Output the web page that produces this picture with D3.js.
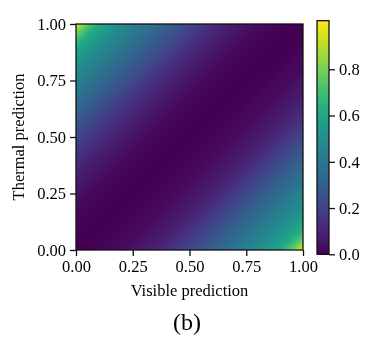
<!DOCTYPE html>
<html>
<head>
<meta charset="utf-8">
<script src="https://cdn.jsdelivr.net/npm/d3@7"></script>
<style>
  body { margin: 0; background: #fff; }
  #wrap { position: relative; width: 379px; height: 352px; }
  #wrap canvas, #wrap svg { position: absolute; left: 0; top: 0; }
  svg text { font-family: "Times New Roman", "Liberation Serif", Times, serif; fill: #000; }
</style>
</head>
<body>
<div id="wrap">
<canvas id="heat" width="379" height="352"></canvas>
<svg id="chart" width="379" height="352"></svg>
</div>
<script>
var gapSteps   = [0, 0.1, 0.2, 0.25, 0.3, 0.4, 0.5, 0.6, 0.7, 0.8, 0.9, 0.95, 1.0];
var gapValues  = [0, 0.008, 0.03, 0.05, 0.07, 0.13, 0.22, 0.31, 0.40, 0.49, 0.62, 0.76, 1.0];
var axisTicks  = [0, 0.25, 0.5, 0.75, 1.0];
var barTicks   = [0, 0.2, 0.4, 0.6, 0.8];
var colorMax   = 1.01;

var svg = d3.select("#chart");
var plot = {left: 76, right: 303, top: 24, bottom: 250};

var x = d3.scaleLinear().domain([0, 1]).range([plot.left, plot.right]),
    y = d3.scaleLinear().domain([0, 1]).range([plot.bottom, plot.top]);

var gapToValue = d3.scaleLinear().domain(gapSteps).range(gapValues).clamp(true);
var color = d3.scaleSequential(d3.interpolateViridis).domain([0, colorMax]);

// heat map, one cell per screen pixel
var ctx = d3.select("#heat").node().getContext("2d");
for (var px = plot.left; px < plot.right; px++) {
  for (var py = plot.top; py < plot.bottom; py++) {
    var vx = x.invert(px + 0.5), vy = y.invert(py + 0.5);
    ctx.fillStyle = color(gapToValue(Math.abs(vx - vy)));
    ctx.fillRect(px, py, 1, 1);
  }
}

// frame
svg.append("rect")
  .attr("x", plot.left).attr("y", plot.top)
  .attr("width", plot.right - plot.left).attr("height", plot.bottom - plot.top)
  .attr("fill", "none").attr("stroke", "#111").attr("stroke-width", 1.3);

var fmt = d3.format(".2f");

var xAxis = svg.append("g")
  .attr("transform", "translate(0," + plot.bottom + ")")
  .call(d3.axisBottom(x).tickValues(axisTicks).tickFormat(fmt).tickSize(6).tickPadding(4));
var yAxis = svg.append("g")
  .attr("transform", "translate(" + plot.left + ",0)")
  .call(d3.axisLeft(y).tickValues(axisTicks).tickFormat(fmt).tickSize(6).tickPadding(4));

[xAxis, yAxis].forEach(function(a) {
  a.attr("font-family", null).attr("font-size", null);
  a.select(".domain").remove();
  a.selectAll("line").attr("stroke", "#111").attr("stroke-width", 1.3);
  a.selectAll("text").attr("font-size", 16.5).attr("fill", "#000");
});

svg.append("text")
  .attr("x", (plot.left + plot.right) / 2)
  .attr("y", 296)
  .attr("text-anchor", "middle")
  .attr("font-size", 16.5)
  .text("Visible prediction");

svg.append("text")
  .attr("transform", "translate(24," + (plot.top + plot.bottom) / 2 + ") rotate(-90)")
  .attr("text-anchor", "middle")
  .attr("font-size", 16.5)
  .text("Thermal prediction");

svg.append("text")
  .attr("x", 187)
  .attr("y", 330)
  .attr("text-anchor", "middle")
  .attr("font-size", 24)
  .text("(b)");

// colorbar
var bar = {left: 317, right: 329, top: 20.7, bottom: 254.3};
var cb = d3.scaleLinear().domain([0, colorMax]).range([bar.bottom, bar.top]);
for (var by = Math.floor(bar.top); by < Math.ceil(bar.bottom); by++) {
  ctx.fillStyle = color(cb.invert(by + 0.5));
  ctx.fillRect(bar.left, by, bar.right - bar.left, 1);
}

svg.append("rect")
  .attr("x", bar.left).attr("y", bar.top)
  .attr("width", bar.right - bar.left).attr("height", bar.bottom - bar.top)
  .attr("fill", "none").attr("stroke", "#111").attr("stroke-width", 1.3);

var cAxis = svg.append("g")
  .attr("transform", "translate(" + bar.right + ",0)")
  .call(d3.axisRight(cb).tickValues(barTicks).tickFormat(d3.format(".1f")).tickSize(6).tickPadding(4));
cAxis.attr("font-family", null).attr("font-size", null);
cAxis.select(".domain").remove();
cAxis.selectAll("line").attr("stroke", "#111").attr("stroke-width", 1.3);
cAxis.selectAll("text").attr("font-size", 16.5).attr("fill", "#000");
</script>
</body>
</html>
